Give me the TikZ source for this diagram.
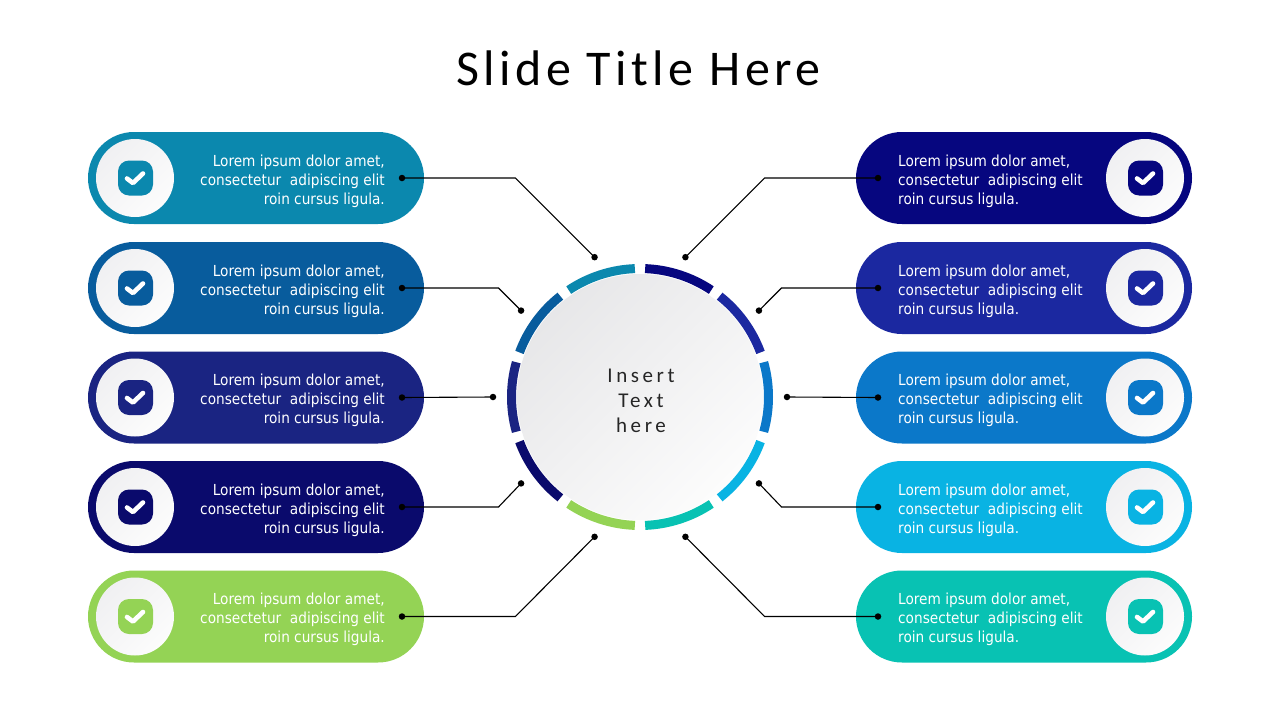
\documentclass[tikz,border=0pt]{standalone}
\usepackage{fontspec}
\setmainfont{Carlito}
\newfontfamily\bodyfont{DejaVu Sans Condensed}
\newfontfamily\titlefont[LetterSpace=9]{Carlito}
\newfontfamily\centerfont[LetterSpace=17]{Carlito}
\usetikzlibrary{calc}
\definecolor{cLa}{HTML}{0B88AE}
\definecolor{cLb}{HTML}{085C9D}
\definecolor{cLc}{HTML}{1A2482}
\definecolor{cLd}{HTML}{0A0A6C}
\definecolor{cLe}{HTML}{94D355}
\definecolor{cRa}{HTML}{06067F}
\definecolor{cRb}{HTML}{1B28A0}
\definecolor{cRc}{HTML}{0B78C9}
\definecolor{cRd}{HTML}{09B3E3}
\definecolor{cRe}{HTML}{08C2B3}
\definecolor{ringA}{HTML}{F0F0F2}
\definecolor{ringB}{HTML}{FCFCFC}
\tikzset{
  pill/.style={rounded corners=46pt, minimum width=336pt, minimum height=92pt, inner sep=0pt},
  disc/.style={circle, minimum size=78pt, inner sep=0pt, shading=axis, left color=ringA, right color=ringB, shading angle=45},
  iconbox/.style={rounded corners=11pt, minimum size=35pt, inner sep=0pt},
  tick/.style={white, line width=4.6pt, line cap=round, line join=round},
  bodytext/.style={text=white, font=\bodyfont\fontsize{15.2}{19}\selectfont, inner sep=0pt},
  dotn/.style={circle, fill=black, minimum size=6.5pt, inner sep=0pt},
  conn/.style={black, line width=1.1pt},
  seg/.style={line width=9pt},
}
\begin{document}
\begin{tikzpicture}[x=1pt,y=-1pt]
\useasboundingbox (0,0) rectangle (1280,720);
\fill[white] (0,0) rectangle (1280,720);

\node[font=\titlefont\fontsize{50}{56}\selectfont, anchor=base, inner sep=0pt] (title) at (638.5,85) {Slide Title Here};

% centre circle
\coordinate (C) at (640,397);
\shade[shading=axis, left color=ringA!92!gray, right color=ringB, shading angle=45] (C) circle[radius=123];
\node[font=\centerfont\fontsize{21}{25}\selectfont, align=center, text=black!85] (ctext) at (641,401) {Insert\\Text\\here};

% ring segments (screen angles; y axis is flipped so negate)
\foreach \a/\col in {90/cRa,54/cRb,18/cRc,-18/cRd,-54/cRe,126/cLa,162/cLb,198/cLc,234/cLd,270/cLe}{
  \pgfmathsetmacro{\sa}{-(\a-2.3)}
  \pgfmathsetmacro{\ea}{-(\a-36+2.3)}
  \draw[seg, draw=\col] ($(C)+(\sa:128.5)$) arc[start angle=\sa, end angle=\ea, radius=128.5];
}

% left pills
\foreach \i/\y/\col in {1/178/cLa,2/288/cLb,3/397.5/cLc,4/507/cLd,5/616.5/cLe}{
  \node[pill, fill=\col] (L\i) at (256,\y) {};
  \node[disc] (Ld\i) at (135,\y) {};
  \node[iconbox, fill=\col] (Li\i) at (135.5,\y) {};
  \draw[tick] ($(Li\i)+(-8.5,0.5)$) -- ($(Li\i)+(-2.5,5)$) -- ($(Li\i)+(7.5,-4.5)$);
  \node[bodytext, align=right, anchor=east] (Lt\i) at (385,\y+3) {Lorem ipsum dolor amet,\\consectetur\ \ adipiscing elit\\roin cursus ligula.};
  \node[dotn] (La\i) at (402,\y) {};
}
% right pills
\foreach \i/\y/\col in {1/178/cRa,2/288/cRb,3/397.5/cRc,4/507/cRd,5/616.5/cRe}{
  \node[pill, fill=\col] (R\i) at (1024,\y) {};
  \node[disc] (Rd\i) at (1145,\y) {};
  \node[iconbox, fill=\col] (Ri\i) at (1145.5,\y) {};
  \draw[tick] ($(Ri\i)+(-8.5,0.5)$) -- ($(Ri\i)+(-2.5,5)$) -- ($(Ri\i)+(7.5,-4.5)$);
  \node[bodytext, align=left, anchor=west] (Rt\i) at (898,\y+3) {Lorem ipsum dolor amet,\\consectetur\ \ adipiscing elit\\roin cursus ligula.};
  \node[dotn] (Ra\i) at (878,\y) {};
}

% dots around circle (radius 147)
\foreach \n/\a in {L1/108,L2/144,L3/180,L4/216,L5/252,R1/72,R2/36,R3/0,R4/-36,R5/-72}{
  \node[dotn] (P\n) at ($(C)+(-\a:147)$) {};
}

% connectors
\draw[conn] (La1.center) -- (515.4,178) -- (PL1.center);
\draw[conn] (La2.center) -- (498.5,288) -- (PL2.center);
\draw[conn] (La3.center) -- (PL3.center);
\draw[conn] (La4.center) -- (498.5,507) -- (PL4.center);
\draw[conn] (La5.center) -- (515.4,616.5) -- (PL5.center);
\draw[conn] (Ra1.center) -- (764.6,178) -- (PR1.center);
\draw[conn] (Ra2.center) -- (781.5,288) -- (PR2.center);
\draw[conn] (Ra3.center) -- (PR3.center);
\draw[conn] (Ra4.center) -- (781.5,507) -- (PR4.center);
\draw[conn] (Ra5.center) -- (764.6,616.5) -- (PR5.center);
\end{tikzpicture}
\end{document}
